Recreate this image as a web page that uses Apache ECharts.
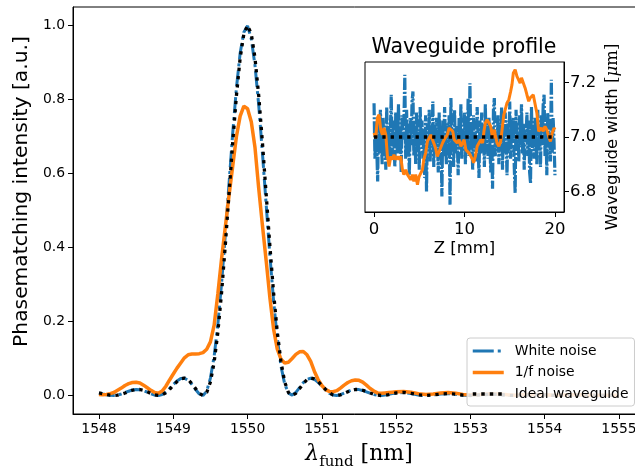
<!DOCTYPE html>
<html><head><meta charset="utf-8">
<script src="https://cdn.jsdelivr.net/npm/echarts@6/dist/echarts.min.js"></script>
<style>html,body{margin:0;padding:0;overflow:hidden;background:#fff}#c{width:635px;height:470px}</style>
</head><body><div id="c"></div>
<script>
// ---------- main panel data ----------
const wavelength = [
1548,1548.05,1548.1,1548.15,1548.2,1548.25,1548.3,1548.35,1548.4,1548.45,
1548.5,1548.55,1548.6,1548.65,1548.7,1548.75,1548.8,1548.85,1548.9,1548.95,
1549,1549.05,1549.1,1549.15,1549.2,1549.25,1549.3,1549.35,1549.4,1549.45,
1549.5,1549.55,1549.6,1549.65,1549.7,1549.75,1549.8,1549.85,1549.9,1549.95,
1550,
1550.05,1550.1,1550.15,1550.2,1550.25,1550.3,1550.35,1550.4,1550.45,1550.5,
1550.55,1550.6,1550.65,1550.7,1550.75,1550.8,1550.85,1550.9,1550.95,1551,
1551.05,1551.1,1551.15,1551.2,1551.25,1551.3,1551.35,1551.4,1551.45,1551.5,
1551.55,1551.6,1551.65,1551.7,1551.75,1551.8,1551.85,1551.9,1551.95,1552,
1552.1,1552.2,1552.3,1552.4,1552.5,1552.6,1552.7,1552.8,1552.9,1553,
1553.1,1553.2,1553.3,1553.4,1553.5,1553.6,1553.7,1553.8,1553.9,1554,
1554.1,1554.2,1554.3,1554.4,1554.5,1554.6,1554.7,1554.8,1554.9,1555
];
const whiteNoise = [
0.0064,0.0041,0.0019,0.0004,0.0001,0.0013,0.0040,0.0077,0.0116,0.0150,
0.0163,0.0158,0.0132,0.0090,0.0045,0.0010,0.0001,0.0027,0.0092,0.0188,
0.0296,0.0393,0.0460,0.0467,0.0411,0.0301,0.0162,0.0042,0.0003,0.0116,
0.0470,0.1060,0.1920,0.3030,0.4330,0.5720,0.7090,0.8310,0.9250,0.9820,
0.9990,
0.9640,0.8920,0.7850,0.6560,0.5170,0.3800,0.2560,0.1550,0.0790,0.0310,
0.0065,0.0012,0.0084,0.0214,0.0345,0.0436,0.0467,0.0435,0.0358,0.0252,
0.0145,0.0061,0.0011,0.0002,0.0024,0.0063,0.0108,0.0146,0.0163,0.0159,
0.0137,0.0100,0.0060,0.0026,0.0005,0.0001,0.0011,0.0030,0.0052,0.0069,
0.0080,0.0052,0.0013,0.0001,0.0019,0.0043,0.0050,0.0032,0.0009,0.0001,
0.0011,0.0029,0.0034,0.0022,0.0005,0.0001,0.0009,0.0021,0.0024,0.0015,
0.0004,0.0001,0.0006,0.0015,0.0018,0.0012,0.0003,0.0001,0.0005,0.0011
];
const oneOverFNoise = [
0.003,0.002,0.003,0.005,0.008,0.014,0.020,0.027,0.032,0.035,
0.036,0.034,0.028,0.021,0.014,0.008,0.006,0.012,0.025,0.042,
0.058,0.074,0.088,0.102,0.110,0.112,0.112,0.113,0.116,0.125,
0.145,0.190,0.275,0.370,0.455,0.540,0.620,0.700,0.755,0.782,
0.775,
0.740,0.670,0.560,0.460,0.365,0.265,0.180,0.125,0.098,0.088,
0.090,0.100,0.111,0.118,0.119,0.110,0.092,0.065,0.043,0.027,
0.016,0.011,0.010,0.013,0.020,0.028,0.035,0.040,0.042,0.041,
0.036,0.028,0.019,0.012,0.007,0.006,0.007,0.008,0.009,0.010,
0.011,0.009,0.005,0.003,0.004,0.007,0.008,0.006,0.003,0.002,
0.002,0.004,0.005,0.004,0.002,0.001,0.002,0.003,0.003,0.002,
0.001,0.001,0.002,0.002,0.002,0.001,0.001,0.001,0.001,0.001
];
const idealWaveguide = [
0.0068,0.0048,0.0025,0.0007,0,0.0008,0.0032,0.0067,0.0107,0.0142,
0.0162,0.0162,0.0140,0.0100,0.0054,0.0016,0,0.0018,0.0075,0.0165,
0.0274,0.0377,0.0450,0.0471,0.0427,0.0324,0.0186,0.0058,0,0.0081,
0.0365,0.0901,0.1710,0.2778,0.4053,0.5445,0.6839,0.8106,0.9119,0.9774,
1.0,
0.9774,0.9119,0.8106,0.6839,0.5445,0.4053,0.2778,0.1710,0.0901,0.0365,
0.0081,0,0.0058,0.0186,0.0324,0.0427,0.0471,0.0450,0.0377,0.0274,
0.0165,0.0075,0.0018,0,0.0016,0.0054,0.0100,0.0140,0.0162,0.0162,
0.0142,0.0107,0.0067,0.0032,0.0008,0,0.0007,0.0025,0.0048,0.0068,
0.0083,0.0057,0.0017,0,0.0015,0.0040,0.0050,0.0035,0.0011,0,
0.0009,0.0027,0.0034,0.0024,0.0007,0,0.0007,0.0019,0.0024,0.0017,
0.0005,0,0.0005,0.0014,0.0018,0.0013,0.0004,0,0.0004,0.0011
];
const xTicks = [1548,1549,1550,1551,1552,1553,1554,1555];
const yTicks = [0,0.2,0.4,0.6,0.8,1.0];

// ---------- inset data ----------
const widthWhite = [
7.124,6.92,7.05,6.96,6.837,7.08,6.94,7.10,6.99,6.90,
7.07,6.95,7.03,6.88,7.11,6.97,7.04,6.91,7.02,7.155,
6.93,7.06,6.98,6.89,7.09,7.00,6.94,7.12,6.96,7.03,
6.87,7.08,6.99,7.05,7.228,6.92,7.10,6.95,7.01,6.86,
7.07,6.97,7.13,7.167,6.93,7.04,6.90,7.09,6.96,7.02,
6.88,7.11,6.98,7.06,6.92,7.03,6.85,7.08,6.80,7.05,
6.95,7.10,6.91,7.02,6.97,7.13,6.89,7.04,6.94,7.07,
6.99,6.87,7.09,6.96,7.03,6.782,7.06,6.93,7.11,6.98,
6.90,7.05,6.95,7.08,6.752,7.143,6.97,7.02,6.89,7.10,
6.94,7.04,6.99,6.86,7.07,6.96,7.12,6.92,7.03,6.98,
7.09,6.90,7.06,6.95,7.14,6.93,7.197,6.97,7.04,6.88,
7.08,6.96,7.02,6.91,7.11,6.99,6.85,7.06,6.94,7.09,
6.97,7.03,6.89,7.12,6.95,7.05,6.92,7.07,6.98,6.87,
7.04,6.81,7.10,7.143,6.93,7.02,6.96,7.08,6.90,7.05,
6.97,7.11,6.88,7.03,6.94,7.09,6.99,6.86,7.06,6.95,
7.13,6.92,7.04,6.98,7.07,6.89,6.795,7.10,6.96,7.02,
6.91,7.08,6.97,7.12,6.94,7.05,6.88,7.03,6.99,7.09,
6.93,7.06,6.87,6.83,7.11,6.96,7.04,6.92,7.07,6.98,
6.90,7.10,6.95,7.03,6.89,7.08,6.97,7.12,7.155,6.93,
7.05,6.86,7.09,6.96,7.02,6.91,7.21,6.94,7.07,6.98,
6.86
];
const zWhite = widthWhite.map((_, i) => i / 10);   // sample positions along Z [mm]
const zOneOverF = [
0,0.18,0.37,0.55,0.74,0.92,1.1,1.3,1.48,1.66,1.85,2.03,2.2,2.4,2.6,2.77,2.95,3.14,3.3,3.5,
3.7,3.87,4.05,4.24,4.4,4.6,4.8,4.98,5.17,5.35,5.5,5.7,5.9,6.1,6.27,6.46,6.6,6.8,7.0,7.2,
7.4,7.57,7.75,7.9,8.1,8.3,8.5,8.7,8.86,9.05,9.2,9.4,9.6,9.8,9.96,10.15,10.3,10.5,10.7,10.9,
11.0,11.2,11.4,11.6,11.8,12.0,12.15,12.3,12.5,12.7,12.9,13.1,13.3,13.4,13.6,13.8,14.0,14.2,14.35,14.5,
14.7,14.9,15.1,15.25,15.4,15.6,15.8,16.0,16.15,16.3,16.5,16.7,16.9,17.1,17.25,17.4,17.6,17.8,18.0,18.2,
18.4,18.5,18.7,18.9,19.1,19.3,19.5,19.7,19.9,20.0
];
const widthOneOverF = [
7.015,6.996,7.070,7.082,7.027,7.008,7.033,7.008,6.929,6.892,6.929,6.917,6.935,6.917,6.929,6.917,6.929,6.880,6.862,6.880,
6.862,6.868,6.843,6.862,6.837,6.862,6.825,6.855,6.850,6.880,6.917,6.941,6.984,6.990,7.008,6.990,6.978,6.960,6.929,6.947,
6.953,6.978,6.990,6.984,7.008,7.033,7.039,7.021,6.990,6.996,6.978,6.990,6.966,6.972,6.990,6.953,6.960,6.941,6.947,6.917,
6.905,6.929,6.966,6.972,6.990,6.978,7.021,7.051,7.063,7.051,7.039,6.996,7.027,7.008,6.978,6.966,6.984,7.039,7.082,7.100,
7.125,7.137,7.167,7.192,7.235,7.247,7.222,7.229,7.198,7.217,7.210,7.180,7.155,7.131,7.143,7.137,7.155,7.161,7.088,7.021,
7.015,7.033,7.021,7.039,7.027,7.002,6.984,7.015,7.033,7.027
];
const zIdeal = [0, 20];
const widthIdeal = [7.0, 7.0];
const insetXTicks = [0, 10, 20];
const insetYTicks = [6.8, 7.0, 7.2];

const FONT = 'DejaVu Sans';
const pairs = (xs, ys) => xs.map((x, i) => [x, ys[i]]);

const chart = echarts.init(document.getElementById('c'), null, {renderer: 'canvas'});

function axisCommon(ticks, fontSize, margin, fmt) {
  return {
    type: 'value',
    axisLine: {show: true, onZero: false, lineStyle: {color: '#000', width: 1}},
    axisTick: {show: true, inside: false, length: 5, customValues: ticks, lineStyle: {color: '#000', width: 1}},
    axisLabel: {customValues: ticks, fontSize: fontSize, color: '#000', fontFamily: FONT, margin: margin,
                formatter: fmt},
    splitLine: {show: false}
  };
}

const lineBase = {type: 'line', symbol: 'none', showSymbol: false, animation: false, silent: true,
                  emphasis: {disabled: true}};

chart.setOption({
  animation: false,
  backgroundColor: '#fff',
  grid: [
    {left: 73, top: 7, right: -10, bottom: 56, show: true, borderColor: '#000', borderWidth: 1,
     backgroundColor: '#fff', containLabel: false, outerBoundsMode: 'none'},
    {left: 365, top: 62, width: 199, height: 150, show: true, borderColor: '#000', borderWidth: 1,
     backgroundColor: '#fff', containLabel: false, outerBoundsMode: 'none'}
  ],
  xAxis: [
    Object.assign(axisCommon(xTicks, 13.9, 8, v => String(v)), {
      gridIndex: 0, min: 1547.65, max: 1555.35,
      name: '{l|λ}{s|fund}{n| [nm]}', nameLocation: 'middle', nameGap: 24,
      nameTextStyle: {rich: {
        l: {fontFamily: 'DejaVu Serif', fontStyle: 'italic', fontSize: 22, color: '#000', lineHeight: 32, verticalAlign: 'middle'},
        s: {fontFamily: 'DejaVu Serif', fontSize: 15, color: '#000', lineHeight: 32, verticalAlign: 'bottom'},
        n: {fontFamily: 'DejaVu Serif', fontSize: 22, color: '#000', lineHeight: 32, verticalAlign: 'middle'}
      }}
    }),
    Object.assign(axisCommon(insetXTicks, 16.5, 9, v => String(v)), {
      gridIndex: 1, min: -1, max: 21,
      name: 'Z [mm]', nameLocation: 'middle', nameGap: 28,
      nameTextStyle: {fontSize: 16.5, color: '#000', fontFamily: FONT}
    })
  ],
  yAxis: [
    Object.assign(axisCommon(yTicks, 13.9, 8, v => v.toFixed(1)), {
      gridIndex: 0, min: -0.05, max: 1.05,
      name: 'Phasematching intensity [a.u.]', nameLocation: 'middle', nameRotate: 90, nameGap: 34,
      nameTextStyle: {fontSize: 20.3, color: '#000', fontFamily: FONT, padding: [0, 0, 0, 38]}
    }),
    Object.assign(axisCommon(insetYTicks, 16.5, 6, v => v.toFixed(1)), {
      gridIndex: 1, position: 'right', min: 6.725, max: 7.275,
      name: '{a|Waveguide width }{b|[}{c|μ}{b|m]}', nameLocation: 'middle', nameRotate: 90, nameGap: 40,
      nameTextStyle: {rich: {
        a: {fontFamily: FONT, fontSize: 16.5, color: '#000'},
        b: {fontFamily: 'DejaVu Serif', fontSize: 16.5, color: '#000'},
        c: {fontFamily: 'DejaVu Serif', fontStyle: 'italic', fontSize: 16.5, color: '#000'}
      }}
    })
  ],
  graphic: [{
    type: 'text', x: 464, y: 37, z: 20,
    style: {text: 'Waveguide profile', align: 'center', verticalAlign: 'top',
            font: '20.5px "DejaVu Sans"', fill: '#000'}
  }],
  legend: {
    orient: 'vertical', left: 467, top: 338, itemWidth: 31, itemHeight: 14, itemGap: 7.5,
    padding: [6, 6, 5, 4], backgroundColor: 'rgba(255,255,255,0.85)', borderColor: '#cccccc',
    borderWidth: 1, borderRadius: 3, selectedMode: false, z: 10,
    itemStyle: {color: 'rgba(0,0,0,0)', borderWidth: 0, opacity: 0},
    lineStyle: {width: 3},
    textStyle: {fontSize: 13.9, color: '#000', fontFamily: FONT, padding: [0, 0, 0, 6]},
    data: [
      {name: 'White noise', lineStyle: {width: 3, type: [21, 4, 3, 4]}},
      {name: '1/f noise', lineStyle: {width: 3.5}},
      {name: 'Ideal waveguide', lineStyle: {width: 3.5, type: [3.5, 5]}}
    ]
  },
  series: [
    Object.assign({}, lineBase, {name: 'White noise', xAxisIndex: 0, yAxisIndex: 0,
      data: pairs(wavelength, whiteNoise), itemStyle: {color: '#1f77b4'},
      lineStyle: {color: '#1f77b4', width: 3, type: [16, 4, 3, 4]}}),
    Object.assign({}, lineBase, {name: '1/f noise', xAxisIndex: 0, yAxisIndex: 0,
      data: pairs(wavelength, oneOverFNoise), itemStyle: {color: '#ff7f0e'},
      lineStyle: {color: '#ff7f0e', width: 3.5, type: 'solid'}}),
    Object.assign({}, lineBase, {name: 'Ideal waveguide', xAxisIndex: 0, yAxisIndex: 0,
      data: pairs(wavelength, idealWaveguide), itemStyle: {color: '#000'},
      lineStyle: {color: '#000', width: 3.3, type: [3.3, 5], cap: 'butt'}}),
    Object.assign({}, lineBase, {name: 'White noise', xAxisIndex: 1, yAxisIndex: 1,
      data: pairs(zWhite, widthWhite), itemStyle: {color: '#1f77b4'},
      lineStyle: {color: '#1f77b4', width: 3.2, type: [12, 2, 2, 2]}}),
    Object.assign({}, lineBase, {name: '1/f noise', xAxisIndex: 1, yAxisIndex: 1,
      data: pairs(zOneOverF, widthOneOverF), itemStyle: {color: '#ff7f0e'},
      lineStyle: {color: '#ff7f0e', width: 3, type: 'solid'}}),
    Object.assign({}, lineBase, {name: 'Ideal waveguide', xAxisIndex: 1, yAxisIndex: 1,
      data: pairs(zIdeal, widthIdeal), itemStyle: {color: '#000'},
      lineStyle: {color: '#000', width: 3.3, type: [3.3, 5], cap: 'butt'}})
  ]
});
</script>
</body></html>
